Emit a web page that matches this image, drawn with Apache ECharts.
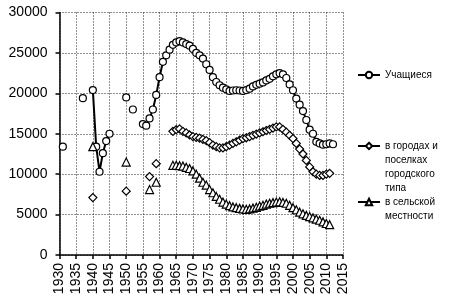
<!DOCTYPE html>
<html>
<head>
<meta charset="utf-8">
<script src="https://cdn.jsdelivr.net/npm/echarts@6/dist/echarts.min.js"></script>
<style>
  html, body { margin: 0; padding: 0; background: #fff; }
  #chart { width: 450px; height: 302px; }
</style>
</head>
<body>
<div id="chart"></div>
<script>
// years on the x axis, 1930..2015
const years = [];
for (let y = 1930; y <= 2015; y++) years.push(String(y));

// Учащиеся (total), [year, value]
const pupils = [
  [1931, 13400], [1937, 19400],
  [1940, 20400], [1941, 13400], [1942, 10300], [1943, 12600], [1944, 14100], [1945, 15000],
  [1950, 19500], [1952, 18000],
  [1955, 16200], [1956, 16000], [1957, 16900], [1958, 18000], [1959, 19800],
  [1960, 22000], [1961, 23900], [1962, 24700], [1963, 25400], [1964, 26000],
  [1965, 26300], [1966, 26450], [1967, 26300], [1968, 26100], [1969, 25900],
  [1970, 25500], [1971, 25000], [1972, 24700], [1973, 24300], [1974, 23600],
  [1975, 22900], [1976, 22000], [1977, 21400], [1978, 21000], [1979, 20700],
  [1980, 20500], [1981, 20300], [1982, 20350], [1983, 20380], [1984, 20350],
  [1985, 20300], [1986, 20400], [1987, 20580], [1988, 20850], [1989, 21050],
  [1990, 21200], [1991, 21350], [1992, 21600], [1993, 21800], [1994, 22100],
  [1995, 22350], [1996, 22500], [1997, 22350], [1998, 21900], [1999, 21100],
  [2000, 20380], [2001, 19350], [2002, 18600], [2003, 17800], [2004, 16700],
  [2005, 15500], [2006, 15000], [2007, 14000], [2008, 13800], [2009, 13650],
  [2010, 13700], [2011, 13800], [2012, 13700]
];

// в городах и поселках городского типа
const urban = [
  [1940, 7100], [1950, 7900], [1957, 9700], [1959, 11300],
  [1964, 15300], [1965, 15500], [1966, 15600], [1967, 15300], [1968, 15100],
  [1969, 14850], [1970, 14650], [1971, 14550], [1972, 14450], [1973, 14300],
  [1974, 14150], [1975, 13900], [1976, 13600], [1977, 13400], [1978, 13250],
  [1979, 13250], [1980, 13400], [1981, 13600], [1982, 13800], [1983, 14000],
  [1984, 14200], [1985, 14400], [1986, 14500], [1987, 14650], [1988, 14800],
  [1989, 14950], [1990, 15100], [1991, 15250], [1992, 15400], [1993, 15550],
  [1994, 15700], [1995, 15850], [1996, 15850], [1997, 15550], [1998, 15200],
  [1999, 14800], [2000, 14400], [2001, 13800], [2002, 13100], [2003, 12500],
  [2004, 11700], [2005, 10900], [2006, 10300], [2007, 10000], [2008, 9850],
  [2009, 9850], [2010, 10000], [2011, 10100]
];

// в сельской местности
const rural = [
  [1940, 13400], [1950, 11500], [1957, 8100], [1959, 9000],
  [1964, 11100], [1965, 11100], [1966, 11050], [1967, 11000], [1968, 10850],
  [1969, 10700], [1970, 10400], [1971, 10000], [1972, 9500], [1973, 9000],
  [1974, 8650], [1975, 8100], [1976, 7700], [1977, 7250], [1978, 6900],
  [1979, 6550], [1980, 6300], [1981, 6100], [1982, 5950], [1983, 5850],
  [1984, 5770], [1985, 5700], [1986, 5650], [1987, 5700], [1988, 5800],
  [1989, 5900], [1990, 6050], [1991, 6150], [1992, 6300], [1993, 6400],
  [1994, 6480], [1995, 6550], [1996, 6580], [1997, 6500], [1998, 6400],
  [1999, 6150], [2000, 5850], [2001, 5600], [2002, 5300], [2003, 5100],
  [2004, 4900], [2005, 4750], [2006, 4600], [2007, 4450], [2008, 4300],
  [2009, 4100], [2010, 3900], [2011, 3750]
];

const yTicks = [0, 30000, 5000]; // min, max, step

// spread pairs over the full year list, gaps stay null so lines break
function toYearly(pairs) {
  const out = years.map(() => null);
  pairs.forEach(([y, v]) => { out[y - 1930] = v; });
  return out;
}

const FONT = "Liberation Sans";
const LINE_H = 14;
const names = ["Учащиеся", "в городах и\nпоселках\nгородского\nтипа", "в сельской\nместности"];

function makeSeries(name, data, symbol, size, width) {
  return {
    name: name,
    type: "line",
    data: toYearly(data),
    symbol: symbol,
    symbolSize: size,
    showAllSymbol: true,
    connectNulls: false,
    animation: false,
    lineStyle: { color: "#000", width: width },
    itemStyle: { color: "#fff", borderColor: "#000", borderWidth: 1.2 },
  };
}

// the icon sits in the middle of the text block, so pad the top with
// empty lines to bring it level with the first line of the name
function makeLegend(name, iconY) {
  const lines = name.split("\n").length;
  const total = lines * 2 - 1;
  return {
    data: [name],
    left: 357,
    top: iconY - (total * LINE_H) / 2,
    padding: 0,
    orient: "vertical",
    itemWidth: 22,
    itemHeight: 8,
    itemGap: 0,
    selectedMode: false,
    formatter: (n) => "\n".repeat(lines - 1) + n,
    textStyle: {
      fontFamily: FONT,
      fontSize: 10,
      color: "#000",
      lineHeight: LINE_H,
    },
  };
}

const chart = echarts.init(document.getElementById("chart"), null, { renderer: "canvas" });

chart.setOption({
  animation: false,
  backgroundColor: "#fff",
  grid: { left: 59.5, right: 107, top: 12.5, bottom: 47 },
  legend: [
    makeLegend(names[0], 75),
    makeLegend(names[1], 146),
    makeLegend(names[2], 202),
  ],
  xAxis: {
    type: "category",
    data: years,
    boundaryGap: false,
    axisLine: { lineStyle: { color: "#000", width: 1.5 } },
    axisTick: { interval: 4, length: 4, lineStyle: { color: "#000", width: 1.5 } },
    axisLabel: {
      interval: 4,
      rotate: 90,
      margin: 8,
      fontFamily: FONT,
      fontSize: 14,
      color: "#000",
    },
    splitLine: {
      show: true,
      interval: 4,
      lineStyle: { color: "#222", type: [1, 2], width: 1 },
    },
  },
  yAxis: {
    type: "value",
    min: yTicks[0],
    max: yTicks[1],
    interval: yTicks[2],
    axisLine: { show: true, lineStyle: { color: "#000", width: 1.5 } },
    axisTick: { show: true, length: 4, lineStyle: { color: "#000", width: 1.5 } },
    axisLabel: {
      margin: 12,
      fontFamily: FONT,
      fontSize: 14,
      color: "#000",
      formatter: (v) => String(v),
    },
    splitLine: { lineStyle: { color: "#222", type: [1, 2], width: 1 } },
  },
  series: [
    makeSeries(names[0], pupils, "circle", 7, 2),
    makeSeries(names[1], urban, "diamond", 8, 1.5),
    makeSeries(names[2], rural, "triangle", 8, 1.5),
  ],
});
</script>
</body>
</html>
